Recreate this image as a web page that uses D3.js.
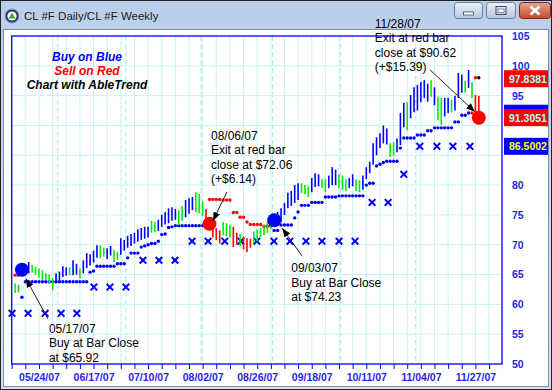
<!DOCTYPE html>
<html>
<head>
<meta charset="utf-8">
<script src="https://cdn.jsdelivr.net/npm/d3@7/dist/d3.min.js"></script>
<style>
  body { margin: 0; background: #fff; }
  svg { display: block; font-family: "Liberation Sans", Arial, sans-serif; }
</style>
</head>
<body>
<div id="chart"></div>
<script>
// daily bars, bar 1 = 05/15/07 ... bar 137 = 11/28/07
var barHigh = [
  63.5, 63.3, 66.5, 66.6, 67.1, 66.6, 66.3, 66.0, 65.7, 65.2,
  65.0, 64.4, 65.2, 65.5, 66.4, 66.2, 66.2, 67.4, 66.8, 66.0,
  67.4, 68.6, 68.4, 69.0, 69.9, 69.9, 69.5, 69.4, 69.8, 69.1,
  68.8, 71.1, 70.8, 71.5, 71.8, 72.0, 72.6, 72.8, 73.0, 73.0,
  74.0, 73.8, 74.2, 75.0, 75.5, 76.1, 76.3, 76.0, 75.8, 76.5,
  77.5, 77.8, 78.0, 78.8, 78.5, 77.3, 76.0, 74.6, 73.6, 72.8,
  72.4, 73.8, 73.6, 73.3, 73.0, 72.0, 71.8, 71.4, 71.1, 71.0,
  72.2, 72.6, 72.8, 73.3, 73.8, 74.2, 75.0, 75.5, 76.1, 77.0,
  78.7, 79.0, 80.0, 80.3, 80.3, 80.0, 79.8, 81.2, 82.0, 81.8,
  81.0, 81.0, 81.6, 83.0, 82.6, 81.8, 81.6, 81.0, 81.2, 81.8,
  81.0, 80.8, 81.6, 83.0, 83.9, 87.0, 88.0, 88.7, 90.0, 89.5,
  87.0, 87.2, 87.8, 92.1, 93.8, 93.9, 95.1, 96.4, 96.8, 97.3,
  97.6, 97.0, 97.6, 96.4, 94.8, 94.6, 94.6, 94.6, 94.3, 95.0,
  98.8, 98.5, 97.5, 99.3, 97.3, 95.1, 95.0
];
var barLow = [
  61.9, 62.0, 64.8, 65.0, 65.2, 65.3, 65.0, 64.5, 64.1, 64.1,
  63.5, 62.4, 63.7, 64.0, 64.6, 64.8, 64.9, 64.9, 65.0, 64.4,
  65.2, 66.1, 66.5, 67.0, 67.8, 67.8, 68.0, 67.6, 68.2, 67.1,
  67.5, 68.3, 69.0, 69.5, 69.8, 70.2, 70.5, 70.8, 71.0, 71.2,
  72.0, 72.1, 72.3, 73.0, 73.4, 73.6, 74.0, 74.2, 73.3, 74.0,
  74.6, 75.2, 75.8, 75.5, 75.3, 74.8, 73.5, 72.4, 71.2, 70.8,
  70.2, 71.6, 71.4, 71.2, 69.6, 70.0, 69.8, 69.2, 68.8, 69.5,
  70.2, 70.6, 71.3, 71.6, 72.0, 72.6, 73.0, 73.8, 73.8, 75.0,
  76.1, 76.5, 77.0, 77.5, 78.7, 78.5, 78.0, 78.8, 79.7, 79.8,
  79.5, 78.8, 79.5, 80.0, 80.0, 79.5, 79.2, 79.0, 79.5, 79.8,
  79.0, 78.8, 79.2, 81.0, 82.0, 83.4, 85.0, 86.2, 87.0, 86.8,
  84.7, 84.9, 85.5, 86.7, 89.7, 89.2, 91.2, 92.2, 92.5, 93.9,
  94.6, 94.0, 94.8, 93.4, 90.9, 90.1, 91.5, 92.1, 92.2, 92.5,
  94.6, 95.5, 95.5, 96.3, 94.6, 91.7, 91.5
];
// b = up (blue), g = neutral (green), r = down (red)
var barTrend = ("ggbbbggggg" + "ggbbbbgbbg" + "bbbbbggbbg" + "gbbbbbbbbb" + "ggbbbbbbgg" +
  "bbbgggrrrr" + "rgggrrgrrr" + "ggggggbbbb" + "bbbbgggbbb" + "ggbbbgggbb" +
  "ggbbbbbbbb" + "ggbbbgbbbb" + "bbgbggbbgb" + "bbgbgrr").split("");

// daily AbleTrend stop
var dailyStop = [
  64.9, 64.9, 61.2, 63.8, 63.8, 63.8, 63.8, 63.8, 63.8, 63.8,
  63.8, 63.8, 63.8, 63.8, 63.8, 63.8, 63.8, 63.8, 63.8, 63.8,
  63.8, 63.8, 65.4, 65.6, 66.4, 66.4, 66.4, 66.4, 66.4, 66.4,
  66.8, 66.8, 66.8, 67.8, 68.6, 68.6, 68.6, 69.6, 69.8, 70.0,
  70.2, 70.2, 70.6, 71.7, 71.8, 72.9, 73.0, 73.2, 73.2, 73.2,
  73.2, 73.2, 73.2, 73.2, 73.2, 73.2, 73.2, 77.6, 77.6, 77.6,
  77.6, 77.5, 77.5, 77.5, 75.4, 75.4, 74.6, 74.6, 73.8, 73.4,
  73.4, 73.4, 73.4, 73.1, 73.1, 73.1, 72.4, 72.4, 73.3, 73.3,
  73.3, 73.3, 74.5, 75.5, 76.6, 76.6, 76.6, 77.1, 77.1, 77.1,
  77.1, 78.0, 78.0, 78.0, 78.0, 78.2, 78.2, 78.2, 78.2, 78.2,
  78.2, 78.2, 78.2, 80.0, 80.3, 80.3, 83.2, 83.5, 83.8, 84.0,
  84.0, 84.0, 84.0, 86.2, 87.9, 87.9, 87.9, 87.9, 88.4, 88.4,
  88.4, 89.1, 89.1, 89.6, 89.6, 89.6, 89.6, 89.6, 89.6, 90.6,
  90.6, 91.7, 91.7, 92.1, 92.1, 98.0, 98.0
];
var stopTrend = ("rrbbbbbbbbbbbbbbbbbbbbbbbbbbbbbbbbbbbbbbbbbbbbbbbbbbbbbbbrrrr" +
  "rrrrrrrrrrrrrrrbbbbbbbbbbbbbbbbbbbbbbbbbbbbbbbbbbbbbbbbbbbbbbbbbbbbbbbbbbrr").split("");

// weekly stop (X marks)
var weekPos = [0.1, 4.8, 9.8, 14.5, 19.1, 24.1, 28.8, 33.5, 38.5, 43.2, 47.9, 52.9, 57.6, 62.5,
  67.2, 71.9, 76.9, 81.6, 86.3, 91.0, 96.0, 100.7, 105.7, 110.4, 115.0, 119.7, 124.7, 129.4, 134.4];
var weekStop = [58.5, 58.5, 58.5, 58.5, 58.5, 62.9, 62.9, 62.9, 67.4, 67.4, 67.4,
  70.6, 70.6, 70.6, 70.6, 70.6, 70.6, 70.6, 70.6, 70.6, 70.6, 70.6,
  77.1, 77.1, 81.8, 86.5, 86.5, 86.5, 86.5];

var dateLabels = ["05/24/07", "06/17/07", "07/10/07", "08/02/07", "08/26/07",
  "09/18/07", "10/11/07", "11/04/07", "11/27/07"];
var dateLabelPos = [8, 24, 40, 56, 72, 88, 104, 120, 136];
var monthPos = [13.5, 33.5, 55.5, 76.5, 96.5, 118.5];
var priceTicks = [50, 55, 60, 65, 70, 75, 80, 85, 90, 95, 100, 105];

var signalPos = [3, 58, 77, 137];
var signalPrice = [65.8, 73.5, 74.1, 91.3];
var signalTrend = ["b", "r", "b", "r"];
var noteLines = [
  ["05/17/07", "Buy at Bar Close", "at $65.92"],
  ["08/06/07", "Exit at red bar", "close at $72.06", "(+$6.14)"],
  ["09/03/07", "Buy at Bar Close", "at $74.23"],
  ["11/28/07", "Exit at red bar", "close at $90.62", "(+$15.39)"]
];
var legendLines = ["Buy on Blue", "Sell on Red", "Chart with AbleTrend"];
var legendTrend = ["b", "r", "k"];

// last value tags (the blue one at 92.05 sits under the red one)
var tagValues = [97.8381, 92.0500, 91.3051, 86.5002];
var tagTrend = ["r", "b", "r", "b"];
var tagShown = [true, false, true, true];

/********************************************************/
var colors = { b: "#0000ff", g: "#00ee00", r: "#ff0000", k: "#000000" };
var tagText = { r: "#a8ffff", b: "#ffff00" };

var W = 552, H = 390;
var plot = { left: 11.7, right: 502, top: 36, bottom: 364 };

// text placement relative to each signal circle: [text dx, first baseline dy, arrow from dx, dy, arrow to dx, dy]
var noteLayout = [
  [27, 63, 26, 49, 4, 9],
  [1.5, -84, 17.5, -32, 3.5, -3],
  [17, 52, 28, 36, 8, 8],
  [-104, -90, -49, -48, -4, -6]
];

var svg = d3.select("#chart").append("svg")
  .attr("width", W)
  .attr("height", H);

var defs = svg.append("defs");
var tg = defs.append("linearGradient").attr("id", "titleGrad")
  .attr("x1", 0).attr("y1", 0).attr("x2", 0).attr("y2", 1);
tg.append("stop").attr("offset", "0%").attr("stop-color", "#b9cfe9");
tg.append("stop").attr("offset", "100%").attr("stop-color", "#d6e3f3");

var bg = defs.append("linearGradient").attr("id", "btnGrad")
  .attr("x1", 0).attr("y1", 0).attr("x2", 0).attr("y2", 1);
bg.append("stop").attr("offset", "0%").attr("stop-color", "#e9f0f9");
bg.append("stop").attr("offset", "100%").attr("stop-color", "#b7c9e2");

var cg = defs.append("linearGradient").attr("id", "closeGrad")
  .attr("x1", 0).attr("y1", 0).attr("x2", 0).attr("y2", 1);
cg.append("stop").attr("offset", "0%").attr("stop-color", "#e8a593");
cg.append("stop").attr("offset", "100%").attr("stop-color", "#c8462a");

defs.append("marker").attr("id", "arrow")
  .attr("viewBox", "0 0 10 8").attr("refX", 10).attr("refY", 4)
  .attr("markerWidth", 9).attr("markerHeight", 7)
  .attr("markerUnits", "userSpaceOnUse")
  .attr("orient", "auto")
  .append("path").attr("d", "M0,0L10,4L0,8Z").attr("fill", "#000");

// window frame
svg.append("rect")
  .attr("x", 0.5).attr("y", 0.5).attr("width", W - 1).attr("height", H - 1)
  .attr("fill", "url(#titleGrad)").attr("stroke", "#222");
svg.append("rect")
  .attr("x", 3.5).attr("y", 29.5).attr("width", W - 7).attr("height", H - 33)
  .attr("fill", "#fff").attr("stroke", "#7d8ea5");

// title bar
var icon = svg.append("g").attr("transform", "translate(12,16)");
icon.append("circle").attr("r", 7).attr("fill", "#243a73").attr("stroke", "#8fa0c0");
icon.append("circle").attr("r", 4.6).attr("fill", "#fff");
icon.append("path").attr("d", "M0,-3.6L3.4,2.6L-3.4,2.6Z").attr("fill", "#3fae2a");
svg.append("text")
  .attr("x", 24).attr("y", 20)
  .attr("font-size", "11.5px")
  .attr("fill", "#1a1a1a")
  .text("CL #F Daily/CL #F Weekly");

var buttons = [[454, 28, "min"], [486, 29, "max"], [519, 31, "close"]];
buttons.forEach(function (b) {
  var g = svg.append("g").attr("transform", "translate(" + b[0] + ",2)");
  g.append("rect").attr("x", 0.5).attr("y", 0.5).attr("width", b[1]).attr("height", 16)
    .attr("rx", 3)
    .attr("fill", b[2] == "close" ? "url(#closeGrad)" : "url(#btnGrad)")
    .attr("stroke", b[2] == "close" ? "#7a2a1a" : "#6b7d98");
  var cx = b[1] / 2 + 0.5;
  if (b[2] == "min") {
    g.append("rect").attr("x", cx - 5).attr("y", 10).attr("width", 10).attr("height", 3)
      .attr("fill", "#fff").attr("stroke", "#3c4a63").attr("stroke-width", 0.8);
  } else if (b[2] == "max") {
    g.append("rect").attr("x", cx - 5).attr("y", 4.5).attr("width", 10).attr("height", 8)
      .attr("fill", "none").attr("stroke", "#3c4a63").attr("stroke-width", 1);
    g.append("rect").attr("x", cx - 3).attr("y", 7).attr("width", 6).attr("height", 3.5)
      .attr("fill", "#fff").attr("stroke", "#3c4a63").attr("stroke-width", 0.6);
  } else {
    g.append("path").attr("d", "M" + (cx - 4.5) + ",4.5L" + (cx + 4.5) + ",12.5M" + (cx + 4.5) + ",4.5L" + (cx - 4.5) + ",12.5")
      .attr("stroke", "#fff").attr("stroke-width", 2.6);
  }
});

/********************************************************/
var x = d3.scaleLinear().domain([0, 143.8]).range([plot.left, plot.right]);
var y = d3.scaleLinear().domain([50, 105]).range([plot.bottom, plot.top]);

var chart = svg.append("g");

// grid
var tickIdx = d3.range(0, 142, 4);
chart.append("g").selectAll("line")
  .data(tickIdx).enter().append("line")
  .attr("x1", d => x(d)).attr("x2", d => x(d))
  .attr("y1", plot.top).attr("y2", plot.bottom)
  .attr("stroke", "#c6f3f3").attr("stroke-width", 1);
chart.append("g").selectAll("line")
  .data(monthPos).enter().append("line")
  .attr("x1", d => x(d)).attr("x2", d => x(d))
  .attr("y1", plot.top).attr("y2", plot.bottom)
  .attr("stroke", "#a4e9eb").attr("stroke-width", 1)
  .attr("stroke-dasharray", "5,3");
chart.append("g").selectAll("line")
  .data(priceTicks.slice(1, -1)).enter().append("line")
  .attr("x1", plot.left).attr("x2", plot.right)
  .attr("y1", d => y(d)).attr("y2", d => y(d))
  .attr("stroke", "#c6f3f3").attr("stroke-width", 1);

// axes
var bottomAxis = d3.axisBottom(x)
  .tickValues(tickIdx)
  .tickSize(5)
  .tickSizeOuter(0)
  .tickFormat(function (d) {
    var k = dateLabelPos.indexOf(d);
    return k >= 0 ? dateLabels[k] : "";
  });
var bx = chart.append("g")
  .attr("transform", `translate(0, ${plot.bottom})`)
  .call(bottomAxis);
bx.select(".domain").remove();
bx.selectAll("line").attr("stroke", "#0000ff");
bx.selectAll("text")
  .attr("y", 10)
  .attr("font-family", "Liberation Sans, Arial, sans-serif")
  .attr("font-size", "10.5px").attr("font-weight", "bold")
  .attr("fill", "#2626ee");

// price labels that a value tag covers are left out
var coveredTicks = priceTicks.filter(function (p) {
  return tagValues.some((v, i) => tagShown[i] && Math.abs(y(v) - y(p)) < 10);
});
var rightAxis = d3.axisRight(y)
  .tickValues(priceTicks.filter(p => coveredTicks.indexOf(p) < 0))
  .tickSize(0).tickPadding(10);
var ry = chart.append("g")
  .attr("transform", `translate(${plot.right}, 0)`)
  .call(rightAxis);
ry.select(".domain").remove();
ry.selectAll("text")
  .attr("font-family", "Liberation Sans, Arial, sans-serif")
  .attr("font-size", "10.5px").attr("font-weight", "bold")
  .attr("fill", "#2626ee");

chart.append("rect")
  .attr("x", plot.left).attr("y", plot.top)
  .attr("width", plot.right - plot.left).attr("height", plot.bottom - plot.top)
  .attr("fill", "none").attr("stroke", "#0000ff").attr("stroke-width", 1.3);

// weekly stop X marks
var xs = 3.3;
chart.append("g").selectAll("path")
  .data(weekPos).enter().append("path")
  .attr("d", function (d, i) {
    var cx = x(d), cy = y(weekStop[i]);
    return `M${cx - xs},${cy - xs}L${cx + xs},${cy + xs}M${cx + xs},${cy - xs}L${cx - xs},${cy + xs}`;
  })
  .attr("stroke", colors.b).attr("stroke-width", 2);

// daily stop dots
chart.append("g").selectAll("circle")
  .data(dailyStop).enter().append("circle")
  .attr("cx", (d, i) => x(i + 1))
  .attr("cy", d => y(d))
  .attr("r", 1.7)
  .attr("fill", (d, i) => colors[stopTrend[i]]);

// daily bars
chart.append("g").selectAll("line")
  .data(barHigh).enter().append("line")
  .attr("x1", (d, i) => x(i + 1)).attr("x2", (d, i) => x(i + 1))
  .attr("y1", d => y(d))
  .attr("y2", (d, i) => y(barLow[i]))
  .attr("stroke", (d, i) => colors[barTrend[i]])
  .attr("stroke-width", 1.6);

// signal circles
chart.append("g").selectAll("circle")
  .data(signalPos).enter().append("circle")
  .attr("cx", d => x(d))
  .attr("cy", (d, i) => y(signalPrice[i]))
  .attr("r", 7)
  .attr("fill", (d, i) => colors[signalTrend[i]]);

// notes with arrows
noteLines.forEach(function (lines, k) {
  var cx = x(signalPos[k]), cy = y(signalPrice[k]);
  var L = noteLayout[k];
  chart.append("line")
    .attr("x1", cx + L[2]).attr("y1", cy + L[3])
    .attr("x2", cx + L[4]).attr("y2", cy + L[5])
    .attr("stroke", "#222").attr("stroke-width", 1)
    .attr("marker-end", "url(#arrow)");
  chart.append("g").selectAll("text")
    .data(lines).enter().append("text")
    .attr("x", cx + L[0])
    .attr("y", (d, j) => cy + L[1] + j * 14.5)
    .attr("font-size", "12px")
    .attr("fill", "#000")
    .text(d => d);
});

// legend
chart.append("g").selectAll("text")
  .data(legendLines).enter().append("text")
  .attr("x", 87).attr("y", (d, i) => 61 + i * 14)
  .attr("text-anchor", "middle")
  .attr("font-size", "12px").attr("font-weight", "bold").attr("font-style", "italic")
  .attr("fill", (d, i) => colors[legendTrend[i]])
  .text(d => d);

// last value tags
var tags = chart.append("g").selectAll("g")
  .data(tagValues).enter().append("g")
  .attr("transform", d => `translate(${plot.right + 2}, ${y(d)})`);
tags.append("rect")
  .attr("x", 0).attr("y", -8.5).attr("width", 44).attr("height", 17)
  .attr("fill", (d, i) => colors[tagTrend[i]]);
tags.filter((d, i) => tagShown[i]).append("text")
  .attr("x", 5).attr("y", 4)
  .attr("font-size", "10.5px").attr("font-weight", "bold")
  .attr("fill", (d, i) => tagText[tagTrend[tagValues.indexOf(d)]])
  .text(d => d.toFixed(4));
</script>
</body>
</html>
